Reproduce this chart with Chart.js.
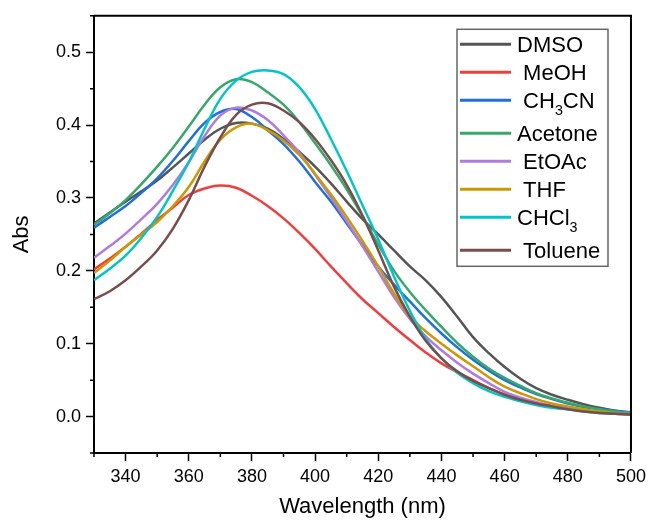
<!DOCTYPE html>
<html>
<head>
<meta charset="utf-8">
<script src="https://cdn.jsdelivr.net/npm/chart.js@4.4.1/dist/chart.umd.min.js"></script>
<style>
  html, body { margin: 0; padding: 0; background: #fff; }
</style>
</head>
<body>
<canvas id="miGrafico" width="651" height="520"></canvas>
<script>
const longitudes = [330, 335, 340, 345, 350, 355, 360, 365, 370, 375, 380, 385, 390, 395, 400, 405, 410, 415,
                    420, 425, 430, 435, 440, 445, 450, 455, 460, 465, 470, 475, 480, 485, 490, 495, 500];

const dmso    = [0.265, 0.280, 0.295, 0.309, 0.324, 0.342, 0.361, 0.380, 0.395, 0.403, 0.402, 0.395, 0.381, 0.363, 0.343, 0.320, 0.295, 0.271,
                 0.250, 0.228, 0.206, 0.187, 0.164, 0.137, 0.109, 0.087, 0.068, 0.052, 0.039, 0.030, 0.023, 0.017, 0.012, 0.008, 0.005];
const meoh    = [0.202, 0.217, 0.233, 0.251, 0.270, 0.287, 0.304, 0.313, 0.317, 0.314, 0.303, 0.289, 0.272, 0.252, 0.230, 0.206, 0.183, 0.161,
                 0.142, 0.123, 0.105, 0.088, 0.073, 0.061, 0.050, 0.039, 0.030, 0.023, 0.018, 0.014, 0.011, 0.008, 0.006, 0.004, 0.003];
const ch3cn   = [0.259, 0.274, 0.289, 0.307, 0.327, 0.351, 0.378, 0.403, 0.418, 0.422, 0.411, 0.393, 0.374, 0.350, 0.322, 0.295, 0.265, 0.235,
                 0.206, 0.181, 0.158, 0.135, 0.114, 0.095, 0.078, 0.063, 0.050, 0.040, 0.031, 0.024, 0.018, 0.013, 0.010, 0.008, 0.006];
const acetona = [0.263, 0.279, 0.297, 0.319, 0.343, 0.369, 0.398, 0.428, 0.452, 0.463, 0.459, 0.445, 0.428, 0.404, 0.375, 0.345, 0.312, 0.275,
                 0.236, 0.200, 0.171, 0.146, 0.123, 0.101, 0.082, 0.066, 0.053, 0.042, 0.032, 0.025, 0.019, 0.014, 0.010, 0.007, 0.005];
const etoac   = [0.218, 0.234, 0.251, 0.271, 0.292, 0.318, 0.349, 0.385, 0.413, 0.424, 0.420, 0.407, 0.386, 0.362, 0.332, 0.301, 0.268, 0.234,
                 0.199, 0.164, 0.134, 0.110, 0.091, 0.074, 0.059, 0.046, 0.034, 0.026, 0.020, 0.015, 0.012, 0.009, 0.006, 0.004, 0.003];
const thf     = [0.197, 0.214, 0.233, 0.250, 0.267, 0.289, 0.315, 0.350, 0.380, 0.397, 0.402, 0.393, 0.379, 0.359, 0.333, 0.305, 0.274, 0.241,
                 0.206, 0.169, 0.138, 0.117, 0.100, 0.084, 0.069, 0.054, 0.041, 0.032, 0.024, 0.018, 0.014, 0.010, 0.007, 0.005, 0.004];
const chcl3   = [0.187, 0.203, 0.221, 0.245, 0.274, 0.310, 0.349, 0.395, 0.436, 0.461, 0.473, 0.475, 0.470, 0.452, 0.422, 0.381, 0.337, 0.290,
                 0.243, 0.192, 0.145, 0.107, 0.080, 0.060, 0.046, 0.035, 0.027, 0.021, 0.016, 0.012, 0.010, 0.007, 0.005, 0.004, 0.003];
const tolueno = [0.161, 0.172, 0.187, 0.206, 0.228, 0.258, 0.297, 0.343, 0.383, 0.414, 0.428, 0.430, 0.420, 0.404, 0.381, 0.352, 0.318, 0.276,
                 0.228, 0.178, 0.137, 0.104, 0.080, 0.062, 0.049, 0.039, 0.030, 0.023, 0.018, 0.014, 0.010, 0.007, 0.005, 0.004, 0.003];

// "_3" = subindice
const nombres = ['DMSO', ' MeOH', ' CH_3CN', 'Acetone', ' EtOAc', ' THF', 'CHCl_3', ' Toluene'];
const colores = ['#555555', '#F23D3D', '#1F6FE0', '#36A86A', '#B07BE0', '#CC9900', '#00C6C9', '#7A4D4D'];
const series  = [dmso, meoh, ch3cn, acetona, etoac, thf, chcl3, tolueno];

const ticksX   = [340, 360, 380, 400, 420, 440, 460, 480, 500];
const menoresX = [330, 350, 370, 390, 410, 430, 450, 470, 490];
const ticksY   = [0.0, 0.1, 0.2, 0.3, 0.4, 0.5];
const menoresY = [-0.05, 0.05, 0.15, 0.25, 0.35, 0.45, 0.55];

const fuente = 'Arial, "Liberation Sans", sans-serif';

// texto con subindices tipo CH_3CN
function textoSub(ctx, texto, x, y, size) {
    const partes = texto.split(/_(\d)/);
    partes.forEach((p, i) => {
        if (!p) return;
        if (i % 2 === 1) {
            ctx.font = `${size * 0.65}px ${fuente}`;
            ctx.fillText(p, x, y + size * 0.3);
        } else {
            ctx.font = `${size}px ${fuente}`;
            ctx.fillText(p, x, y);
        }
        x += ctx.measureText(p).width;
    });
}

const marco = {
    id: 'marco',
    afterDraw(chart) {
        const ctx = chart.ctx;
        const a = chart.chartArea;
        const sx = chart.scales.x, sy = chart.scales.y;
        ctx.save();
        ctx.strokeStyle = '#000';
        // lineas de arriba y derecha
        ctx.lineWidth = 2;
        ctx.beginPath();
        ctx.moveTo(a.left, a.top);
        ctx.lineTo(a.right, a.top);
        ctx.lineTo(a.right, a.bottom);
        ctx.stroke();
        // ticks menores
        ctx.lineWidth = 1.5;
        ctx.beginPath();
        menoresX.forEach(v => {
            const px = sx.getPixelForValue(v);
            ctx.moveTo(px, a.bottom);
            ctx.lineTo(px, a.bottom + 4);
        });
        menoresY.forEach(v => {
            const py = sy.getPixelForValue(v);
            ctx.moveTo(a.left - 4, py);
            ctx.lineTo(a.left, py);
        });
        ctx.stroke();

        // leyenda
        const bx = a.left + 363, by = a.top + 13.5, bw = 151, bh = 237;
        ctx.fillStyle = '#fff';
        ctx.fillRect(bx, by, bw, bh);
        ctx.strokeStyle = '#666';
        ctx.lineWidth = 1.5;
        ctx.strokeRect(bx, by, bw, bh);
        let fy = by + 15;
        nombres.forEach((n, i) => {
            ctx.strokeStyle = colores[i];
            ctx.lineWidth = 3;
            ctx.beginPath();
            ctx.moveTo(bx + 3, fy);
            ctx.lineTo(bx + 54, fy);
            ctx.stroke();
            ctx.fillStyle = '#000';
            ctx.textBaseline = 'alphabetic';
            textoSub(ctx, n, bx + 60, fy + 8, 22);
            fy += n.includes('_') ? 33 : 28;
        });
        ctx.restore();
    }
};

const ctx = document.getElementById('miGrafico').getContext('2d');
const grafico = new Chart(ctx, {
    type: 'line',
    data: {
        datasets: series.map((s, i) => ({
            label: nombres[i],
            data: longitudes.map((l, j) => ({ x: l, y: s[j] })),
            borderColor: colores[i],
            borderWidth: 2.5,
            pointRadius: 0,
            tension: 0.4,
            fill: false,
            order: series.length - i
        }))
    },
    options: {
        responsive: false,
        animation: false,
        layout: { padding: { left: 0, right: 17, top: 15.5, bottom: 0 } },
        plugins: { legend: { display: false }, tooltip: { enabled: false } },
        scales: {
            x: {
                type: 'linear', min: 330, max: 500,
                afterBuildTicks: s => { s.ticks = ticksX.map(v => ({ value: v })); },
                afterFit: s => { s.height = 67; },
                ticks: { font: { family: fuente, size: 18 }, color: '#000', padding: 5, maxRotation: 0, autoSkip: false },
                grid: { drawOnChartArea: false, tickLength: 8, tickWidth: 1.5, tickColor: '#000' },
                border: { color: '#000', width: 2 },
                title: { display: true, text: 'Wavelength (nm)', color: '#000', font: { family: fuente, size: 22 }, padding: { top: 0, bottom: 0 } }
            },
            y: {
                min: -0.05, max: 0.55,
                afterBuildTicks: s => { s.ticks = ticksY.map(v => ({ value: v })); },
                afterFit: s => { s.width = 94; },
                ticks: { font: { family: fuente, size: 18 }, color: '#000', padding: 5, callback: v => Number(v).toFixed(1) },
                grid: { drawOnChartArea: false, tickLength: 8, tickWidth: 1.5, tickColor: '#000' },
                border: { color: '#000', width: 2 },
                title: { display: true, text: 'Abs', color: '#000', font: { family: fuente, size: 22 }, padding: { top: 9, bottom: 0 } }
            }
        }
    },
    plugins: [marco]
});
</script>
</body>
</html>
